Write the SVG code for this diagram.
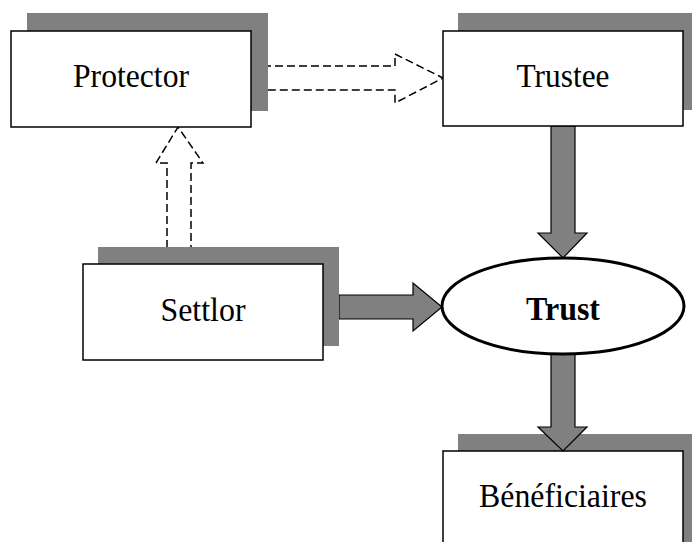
<svg xmlns="http://www.w3.org/2000/svg" width="692" height="542" viewBox="0 0 692 542">
  <style>
    .shadow { fill: #808080; }
    .box { fill: #ffffff; stroke: #000000; stroke-width: 1.5; }
    .label { font-family: "Liberation Serif", "Times New Roman", serif; font-size: 34px; fill: #000000; text-anchor: middle; }
    .bold { font-weight: bold; }
    .solid-arrow { fill: #808080; stroke: #000000; stroke-width: 1.2; stroke-linejoin: miter; }
    .dashed-arrow { fill: none; stroke: #000000; stroke-width: 1.5; stroke-dasharray: 8 4; }
  </style>
  <rect width="692" height="542" fill="#ffffff"/>

  <!-- drawn first so the incoming arrowhead sits on top of its shadow -->
  <g id="beneficiaires">
    <rect class="shadow" x="458" y="434" width="242" height="120"/>
    <rect class="box" x="443" y="451" width="240" height="100"/>
    <text class="label" x="563" y="507" textLength="168" lengthAdjust="spacingAndGlyphs">Bénéficiaires</text>
  </g>

  <g id="connectors">
    <!-- Protector to Trustee: dashed outline arrow -->
    <path class="dashed-arrow" d="M251,66 H395 V54 L443,78 L395,103 V90 H251"/>
    <!-- Settlor to Protector: dashed outline arrow pointing up -->
    <path class="dashed-arrow" d="M167,248 V163 H156 L178,127 L203,163 H191 V248"/>
    <!-- Trustee to Trust -->
    <path class="solid-arrow" d="M551,126 H575 V233 H587 L563,258 L538,233 H551 Z"/>
    <!-- Settlor to Trust -->
    <path class="solid-arrow" d="M339,295 H413 V283 L442,307 L413,331 V319 H339 Z"/>
    <!-- Trust to Bénéficiaires -->
    <path class="solid-arrow" d="M551,353 H575 V427 H587 L563,451 L538,427 H551 Z"/>
  </g>

  <g id="protector">
    <rect class="shadow" x="27" y="13" width="241" height="98"/>
    <rect class="box" x="11" y="31" width="240" height="96"/>
    <text class="label" x="131" y="87" textLength="116" lengthAdjust="spacingAndGlyphs">Protector</text>
  </g>

  <g id="trustee">
    <rect class="shadow" x="458" y="13" width="242" height="97"/>
    <rect class="box" x="443" y="31" width="240" height="95"/>
    <text class="label" x="563" y="87" textLength="93" lengthAdjust="spacingAndGlyphs">Trustee</text>
  </g>

  <g id="settlor">
    <rect class="shadow" x="98" y="247" width="241" height="99"/>
    <rect class="box" x="83" y="264" width="240" height="96"/>
    <text class="label" x="203" y="321" textLength="85" lengthAdjust="spacingAndGlyphs">Settlor</text>
  </g>

  <g id="trust">
    <ellipse cx="563" cy="306" rx="121" ry="48" fill="#ffffff" stroke="#000000" stroke-width="3"/>
    <text class="label bold" x="563" y="320" textLength="74" lengthAdjust="spacingAndGlyphs">Trust</text>
  </g>
</svg>
